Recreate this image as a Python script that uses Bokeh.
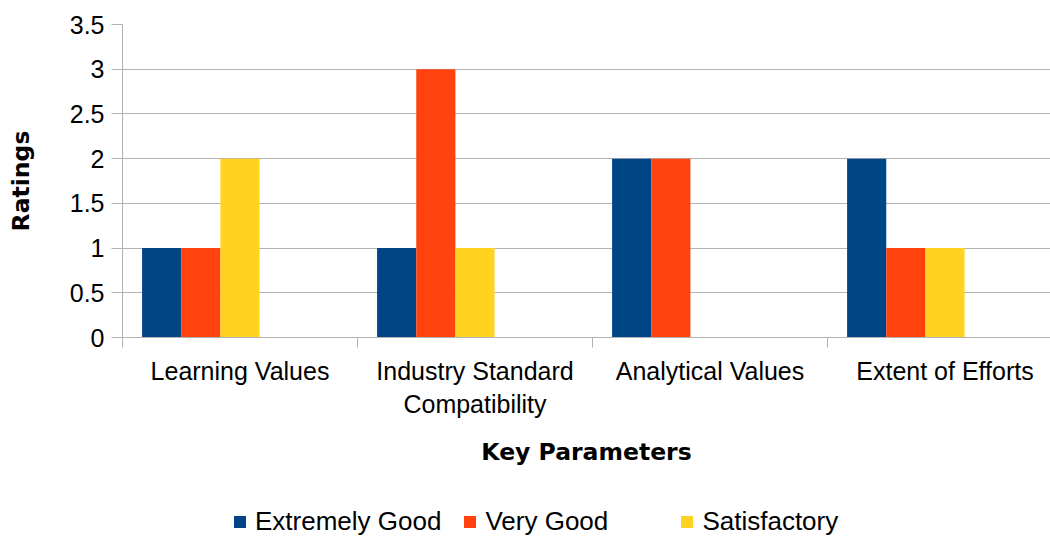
from bokeh.plotting import figure
from bokeh.layouts import column
from bokeh.models import FixedTicker, Legend, LegendItem, Range1d
from bokeh.embed import file_html
from bokeh.resources import INLINE

categories = ["Learning Values", "Industry Standard Compatibility", "Analytical Values", "Extent of Efforts"]
tick_labels = ["Learning Values", "Industry Standard\nCompatibility", "Analytical Values", "Extent of Efforts"]
series_names = ["Extremely Good", "Very Good", "Satisfactory"]
extremely_good = [1, 1, 2, 2]
very_good = [1, 3, 2, 1]
satisfactory = [2, 1, 0, 1]
colors = ["#004586", "#ff420e", "#ffd320"]
y_ticks = [0, 0.5, 1, 1.5, 2, 2.5, 3, 3.5]

series_values = [extremely_good, very_good, satisfactory]
n_slots = 6  # 5 series slots + one gap width per category (LibreOffice layout)
bar_w = 1.0 / n_slots

GRAY = "#b3b3b3"
TICK_FONT = "Liberation Sans"
TITLE_FONT = "DejaVu Sans"

p = figure(width=1050, height=505, output_backend="svg", toolbar_location=None,
           x_range=Range1d(0, 928 / 235), y_range=Range1d(0, 3.5),
           min_border_left=122, min_border_right=0, min_border_top=24, min_border_bottom=168)
p.outline_line_color = None
p.background_fill_color = "white"
p.border_fill_color = "white"

bar_x = []
for k, (name, vals, col) in enumerate(zip(series_names, series_values, colors)):
    xs = [i + (k + 1) * bar_w for i in range(len(categories))]
    bar_x.append(xs)
    p.vbar(x=xs, top=vals, width=bar_w, bottom=0, fill_color=col, line_color=None)

# x axis
p.xaxis.ticker = FixedTicker(ticks=[i + 0.5 for i in range(len(categories))],
                             minor_ticks=[float(i) for i in range(len(categories) + 1)])
p.xaxis.major_label_overrides = {i + 0.5: lab for i, lab in enumerate(tick_labels)}
p.xaxis.major_tick_line_color = None
p.xaxis.major_tick_out = 10
p.xaxis.major_tick_in = 0
p.xaxis.minor_tick_line_color = GRAY
p.xaxis.minor_tick_out = 10
p.xaxis.minor_tick_in = 0
p.xaxis.axis_line_color = GRAY
p.xaxis.major_label_standoff = 9
p.xaxis.major_label_text_font = TICK_FONT
p.xaxis.major_label_text_font_size = "25px"
p.xaxis.major_label_text_color = "#000000"
p.xaxis.axis_label = "Key Parameters"
p.xaxis.axis_label_text_font = TITLE_FONT
p.xaxis.axis_label_text_font_style = "bold"
p.xaxis.axis_label_text_font_size = "23.5px"
p.xaxis.axis_label_text_color = "#000000"
p.xaxis.axis_label_standoff = 17
p.xgrid.grid_line_color = None

# y axis
p.yaxis.ticker = FixedTicker(ticks=y_ticks, minor_ticks=[])
p.yaxis.major_label_overrides = {t: ("%g" % t) for t in y_ticks}
p.yaxis.major_tick_line_color = GRAY
p.yaxis.major_tick_out = 11
p.yaxis.major_tick_in = 0
p.yaxis.minor_tick_line_color = None
p.yaxis.axis_line_color = GRAY
p.yaxis.major_label_standoff = 7
p.yaxis.major_label_text_font = TICK_FONT
p.yaxis.major_label_text_font_size = "25px"
p.yaxis.major_label_text_color = "#000000"
p.yaxis.axis_label = "Ratings"
p.yaxis.axis_label_text_font = TITLE_FONT
p.yaxis.axis_label_text_font_style = "bold"
p.yaxis.axis_label_text_font_size = "23.5px"
p.yaxis.axis_label_text_color = "#000000"
p.yaxis.axis_label_standoff = 32
p.ygrid.grid_line_color = GRAY
p.ygrid.grid_line_width = 1

# legend strip below the chart (hidden copies of the series provide the legend swatches)
lg = figure(width=1050, height=32, output_backend="svg", toolbar_location=None,
            x_range=Range1d(0, 1), y_range=Range1d(0, 1),
            x_axis_location=None, y_axis_location=None,
            min_border_left=0, min_border_right=0, min_border_top=0, min_border_bottom=0)
lg.outline_line_color = None
lg.xgrid.grid_line_color = None
lg.ygrid.grid_line_color = None
items = []
for name, xs, vals, col in zip(series_names, bar_x, series_values, colors):
    r = lg.vbar(x=xs, top=vals, width=bar_w, bottom=0, fill_color=col, line_color=None,
                visible=False)
    items.append(LegendItem(label=name, renderers=[r]))
legend = Legend(items=items, orientation="horizontal", location=(110, 0),
                glyph_width=15, glyph_height=15, label_standoff=8, spacing=21,
                label_width=173, padding=0, margin=0, border_line_color=None,
                background_fill_alpha=0, inactive_fill_alpha=0,
                click_policy="none",
                label_text_font=TICK_FONT, label_text_font_size="26px",
                label_text_color="#000000")
lg.add_layout(legend, "center")

layout = column(p, lg, spacing=0)
open("out.html", "w").write(file_html(layout, INLINE))
